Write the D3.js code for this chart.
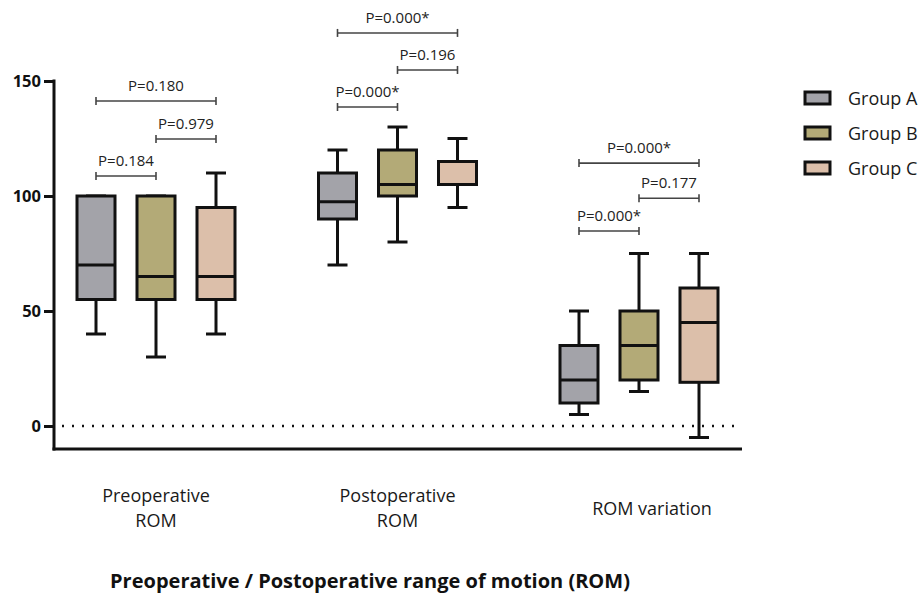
<!DOCTYPE html>
<html>
<head>
<meta charset="utf-8">
<script src="https://cdn.jsdelivr.net/npm/d3@7/dist/d3.min.js"></script>
<style>
	body { margin: 0; background: #fff; }
	text { font-family: "Open Sans", sans-serif; }
</style>
</head>
<body>
<div id="chart"></div>
<script>
var categories = ['Preoperative ROM', 'Postoperative ROM', 'ROM variation'];
var groups = ['Group A', 'Group B', 'Group C'];
var colors = ['#a3a3a9', '#b3aa77', '#dcbfaa'];

// [min, q1, median, q3, max] for each group in each category
var preop = [[40, 55, 70, 100, 100], [30, 55, 65, 100, 100], [40, 55, 65, 95, 110]];
var postop = [[70, 90, 97.5, 110, 120], [80, 100, 105, 120, 130], [95, 105, 115, 115, 125]];
var variation = [[5, 10, 20, 35, 50], [15, 20, 35, 50, 75], [-5, 19, 45, 60, 75]];
var boxes = [preop, postop, variation];

// comparisons: [category, from group, to group, height, label]
var pvalues = [
	[0, 0, 1, 108.7, 'P=0.184'],
	[0, 1, 2, 124.8, 'P=0.979'],
	[0, 0, 2, 141.3, 'P=0.180'],
	[1, 0, 1, 138.7, 'P=0.000*'],
	[1, 1, 2, 154.8, 'P=0.196'],
	[1, 0, 2, 170.9, 'P=0.000*'],
	[2, 0, 1, 84.8, 'P=0.000*'],
	[2, 1, 2, 99, 'P=0.177'],
	[2, 0, 2, 114.3, 'P=0.000*']
];
var yTicks = [0, 50, 100, 150];

var width = 921, height = 599;
var svg = d3.select('#chart').append('svg')
	.attr('width', width)
	.attr('height', height);

var y = d3.scaleLinear().domain([-10, 150]).range([449, 81]);
var x = d3.scalePoint().domain(categories).range([156, 639]);
var xg = d3.scalePoint().domain(groups).range([-60, 60]);
var boxW = 38, capW = 20;

// zero line
svg.append('line')
	.attr('x1', 62).attr('x2', 742)
	.attr('y1', y(0)).attr('y2', y(0))
	.attr('stroke', '#111')
	.attr('stroke-width', 2.5)
	.attr('stroke-dasharray', '2,8');

// y axis
var yAxis = svg.append('g')
	.attr('transform', 'translate(54,0)')
	.call(d3.axisLeft(y).tickValues(yTicks).tickSize(10).tickSizeOuter(0));
yAxis.select('.domain').remove();
yAxis.selectAll('.tick line').attr('stroke', '#111').attr('stroke-width', 3);
yAxis.selectAll('.tick text')
	.attr('x', -13)
	.style('font-family', '"Open Sans", sans-serif')
	.style('font-size', '16.5px')
	.style('font-weight', 'bold')
	.attr('fill', '#111');

svg.append('line')
	.attr('x1', 54).attr('x2', 54)
	.attr('y1', y(150) - 1.5).attr('y2', y(-10) + 1.5)
	.attr('stroke', '#111').attr('stroke-width', 3);
svg.append('line')
	.attr('x1', 52.5).attr('x2', 742)
	.attr('y1', y(-10)).attr('y2', y(-10))
	.attr('stroke', '#111').attr('stroke-width', 3);

// boxes
categories.forEach(function(cat, ci) {
	boxes[ci].forEach(function(b, gi) {
		var cx = x(cat) + xg(groups[gi]);
		var g = svg.append('g');
		g.append('line')
			.attr('x1', cx).attr('x2', cx)
			.attr('y1', y(b[0])).attr('y2', y(b[4]))
			.attr('stroke', '#111').attr('stroke-width', 3);
		[b[0], b[4]].forEach(function(v) {
			g.append('line')
				.attr('x1', cx - capW / 2).attr('x2', cx + capW / 2)
				.attr('y1', y(v)).attr('y2', y(v))
				.attr('stroke', '#111').attr('stroke-width', 3);
		});
		g.append('rect')
			.attr('x', cx - boxW / 2)
			.attr('y', y(b[3]))
			.attr('width', boxW)
			.attr('height', y(b[1]) - y(b[3]))
			.attr('fill', colors[gi])
			.attr('stroke', '#111')
			.attr('stroke-width', 3);
		g.append('line')
			.attr('x1', cx - boxW / 2).attr('x2', cx + boxW / 2)
			.attr('y1', y(b[2])).attr('y2', y(b[2]))
			.attr('stroke', '#111').attr('stroke-width', 3);
	});
});

// p-value brackets
pvalues.forEach(function(p) {
	var x1 = x(categories[p[0]]) + xg(groups[p[1]]);
	var x2 = x(categories[p[0]]) + xg(groups[p[2]]);
	var yy = y(p[3]);
	var g = svg.append('g').attr('stroke', '#444').attr('stroke-width', 1.6);
	g.append('line').attr('x1', x1).attr('x2', x2).attr('y1', yy).attr('y2', yy);
	g.append('line').attr('x1', x1).attr('x2', x1).attr('y1', yy - 4).attr('y2', yy + 4);
	g.append('line').attr('x1', x2).attr('x2', x2).attr('y1', yy - 4).attr('y2', yy + 4);
	svg.append('text')
		.attr('x', (x1 + x2) / 2)
		.attr('y', yy - 10)
		.attr('text-anchor', 'middle')
		.style('font-size', '15px')
		.attr('fill', '#222')
		.text(p[4]);
});

// category labels
var catLines = [['Preoperative', 'ROM'], ['Postoperative', 'ROM'], ['ROM variation']];
categories.forEach(function(cat, ci) {
	var lines = catLines[ci];
	var lx = x(cat) + (lines.length == 1 ? 13 : 0);
	var t = svg.append('text')
		.attr('x', lx)
		.attr('y', lines.length == 1 ? 515 : 502)
		.attr('text-anchor', 'middle')
		.style('font-size', '18px')
		.attr('fill', '#1a1a1a');
	lines.forEach(function(l, i) {
		t.append('tspan')
			.attr('x', lx)
			.attr('dy', i == 0 ? 0 : 25)
			.text(l);
	});
});

// title
svg.append('text')
	.attr('x', 370)
	.attr('y', 588)
	.attr('text-anchor', 'middle')
	.style('font-size', '20px')
	.style('font-weight', 'bold')
	.attr('fill', '#111')
	.text('Preoperative / Postoperative range of motion (ROM)');

// legend
var legend = svg.append('g').attr('transform', 'translate(805,98)');
groups.forEach(function(gname, i) {
	var row = legend.append('g').attr('transform', 'translate(0,' + (i * 35) + ')');
	row.append('rect')
		.attr('x', 0).attr('y', -6)
		.attr('width', 25).attr('height', 12)
		.attr('fill', colors[i])
		.attr('stroke', '#111')
		.attr('stroke-width', 3);
	row.append('text')
		.attr('x', 43)
		.attr('y', 6.5)
		.style('font-size', '18px')
		.attr('fill', '#1a1a1a')
		.text(gname);
});
</script>
</body>
</html>
